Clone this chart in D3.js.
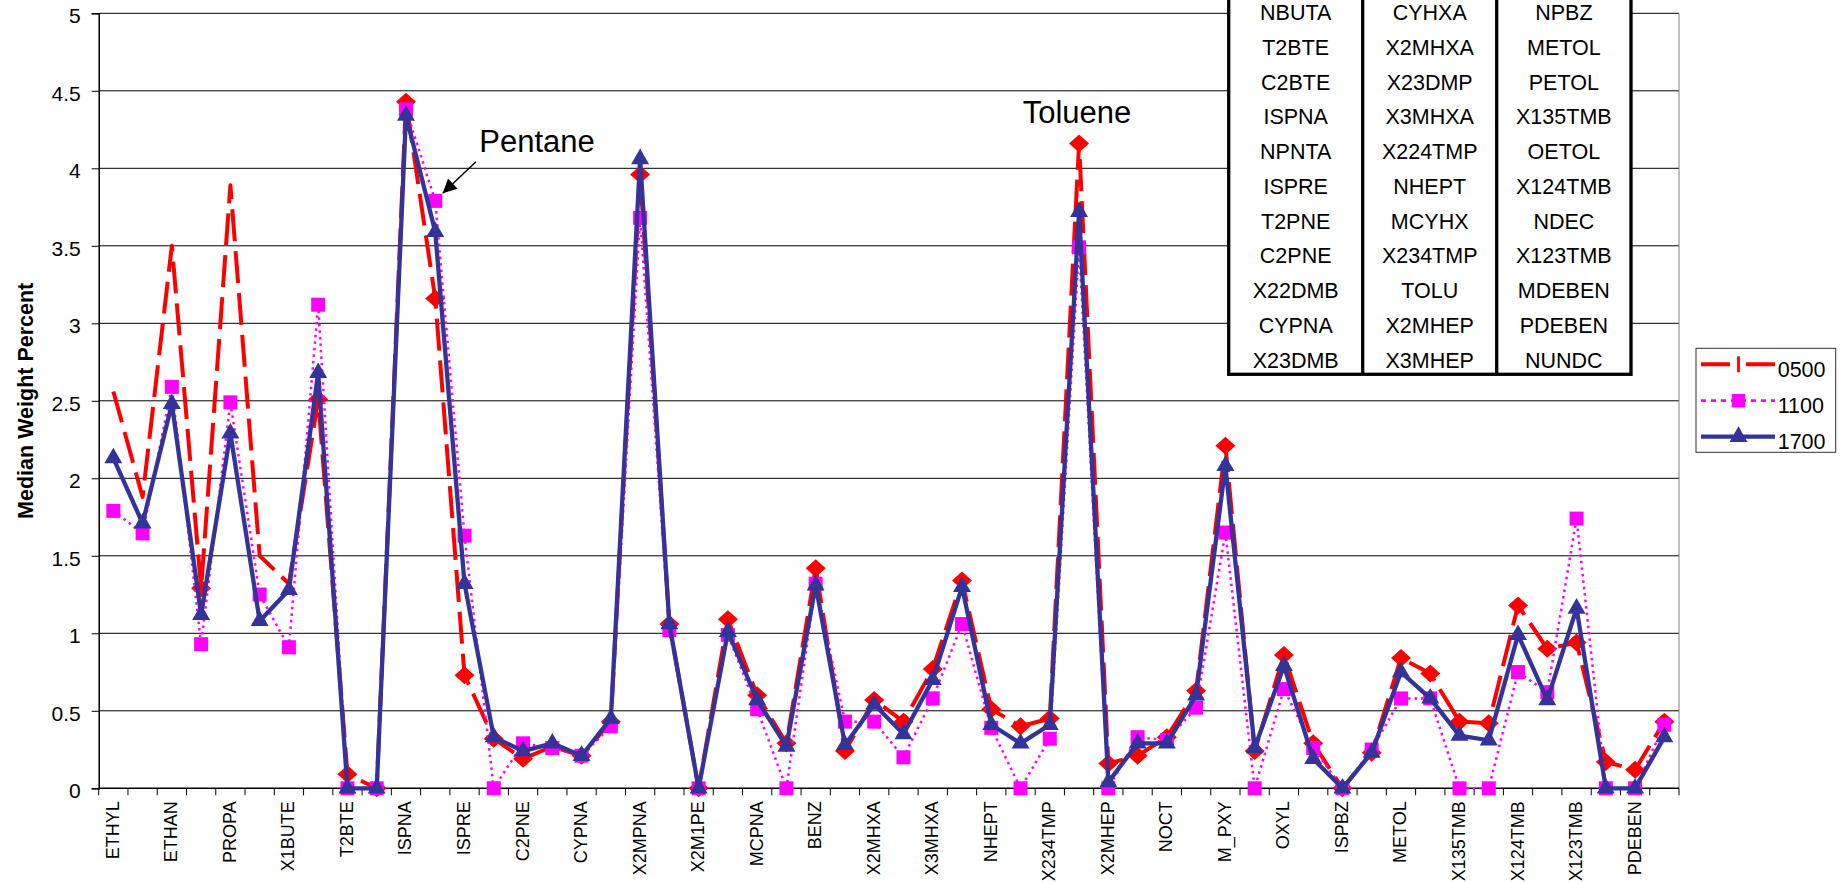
<!DOCTYPE html>
<html>
<head>
<meta charset="utf-8">
<script src="https://cdn.jsdelivr.net/npm/d3@7"></script>
<style>
  html, body { margin: 0; padding: 0; background: #fff; }
  svg { display: block; font-family: "Liberation Sans", Arial, sans-serif; }
</style>
</head>
<body>
<svg id="chart" width="1842" height="882"></svg>
<script>
const categories = ["ETHYL","ACETY","ETHAN","PRPE","PROPA","ISBTA","X1BUTE","NBUTA","T2BTE","C2BTE","ISPNA","NPNTA","ISPRE","T2PNE","C2PNE","X22DMB","CYPNA","X23DMB","X2MPNA","X3MPNA","X2M1PE","NHEX","MCPNA","X24DMP","BENZ","CYHXA","X2MHXA","X23DMP","X3MHXA","X224TMP","NHEPT","MCYHX","X234TMP","TOLU","X2MHEP","X3MHEP","NOCT","ETBZ","M_PXY","STYR","OXYL","NNON","ISPBZ","NPBZ","METOL","PETOL","X135TMB","OETOL","X124TMB","NDEC","X123TMB","MDEBEN","PDEBEN","NUNDC"];

const tickLabels = ["ETHYL","ETHAN","PROPA","X1BUTE","T2BTE","ISPNA","ISPRE","C2PNE","CYPNA","X2MPNA","X2M1PE","MCPNA","BENZ","X2MHXA","X3MHXA","NHEPT","X234TMP","X2MHEP","NOCT","M_PXY","OXYL","ISPBZ","METOL","X135TMB","X124TMB","X123TMB","PDEBEN"];

const series0500 = [2.56,1.88,3.50,1.29,3.89,1.50,1.32,2.51, 0.09,0,4.43,3.16,0.73,0.32,0.19,0.27,0.21,0.43,3.96, 1.06,0,1.09,0.60,0.29,1.42,0.24,0.57,0.43,0.77,1.34, 0.51,0.40,0.45,4.16,0.16,0.21,0.33,0.63,2.21,0.24,0.86, 0.29,0,0.23,0.84,0.74,0.43,0.42,1.18,0.90,0.94,0.17,0.12,0.43];
const series1100 = [1.79,1.645,2.59,0.93,2.49,1.25,0.91,3.12, 0,0,4.38,3.79,1.63,0,0.29,0.26,0.21,0.40,3.68, 1.02,0,0.99,0.51,0,1.32,0.43,0.43,0.20,0.58,1.06, 0.39,0,0.32,3.49,0,0.33,0.31,0.52,1.65,0,0.64, 0.26,0,0.25,0.58,0.58,0,0,0.75,0.62,1.74,0,0,0.41];
const series1700 = [2.13,1.71,2.48,1.12,2.29,1.08,1.28,2.68, 0,0,4.34,3.59,1.32,0.33,0.24,0.29,0.21,0.45,4.06, 1.06,0,1.01,0.57,0.27,1.31,0.28,0.54,0.35,0.70,1.30, 0.41,0.29,0.41,3.72,0.04,0.29,0.29,0.60,2.08,0.26,0.79, 0.19,0,0.23,0.75,0.58,0.34,0.31,0.99,0.57,1.16,0,0,0.33];

const seriesNames = ["0500","1100","1700"];
const yTickValues = [0,0.5,1,1.5,2,2.5,3,3.5,4,4.5,5];

const tableCol1 = ["NBUTA","T2BTE","C2BTE","ISPNA","NPNTA","ISPRE","T2PNE","C2PNE","X22DMB","CYPNA","X23DMB"];
const tableCol2 = ["CYHXA","X2MHXA","X23DMP","X3MHXA","X224TMP","NHEPT","MCYHX","X234TMP","TOLU","X2MHEP","X3MHEP"];
const tableCol3 = ["NPBZ","METOL","PETOL","X135TMB","OETOL","X124TMB","NDEC","X123TMB","MDEBEN","PDEBEN","NUNDC"];

// style: points of the 0500 series drawn without a marker in the original
const noMarker0500 = [0,1,2,4,5,6];

const svg = d3.select("#chart");
const L = 98.7, R = 1679, T = 13.3, B = 788.3;

const x = d3.scaleBand().domain(categories).range([L, R]).padding(0);
const y = d3.scaleLinear().domain([0, 5]).range([B, T]);
const cx = c => x(c) + x.bandwidth() / 2;

// gridlines
svg.append("g").selectAll("line").data(yTickValues.filter(v => v > 0)).join("line")
  .attr("x1", L).attr("x2", R).attr("y1", d => y(d)).attr("y2", d => y(d))
  .attr("stroke", "#000").attr("stroke-width", 1);

// plot right border
svg.append("line").attr("x1", R).attr("x2", R).attr("y1", T).attr("y2", B)
  .attr("stroke", "#808080").attr("stroke-width", 1);

// y axis
const yAxis = d3.axisLeft(y).tickValues(yTickValues).tickSize(7).tickPadding(11)
  .tickFormat(d => String(d));
const gy = svg.append("g").attr("transform", `translate(${L},0)`).call(yAxis);
gy.select(".domain").attr("stroke", "#000").attr("stroke-width", 1.5);
gy.selectAll(".tick line").attr("stroke", "#000");
gy.selectAll(".tick text").attr("font-size", 21).attr("fill", "#000")
  .attr("font-family", "Liberation Sans, Arial, sans-serif").attr("dy", "0.45em");

// x axis line and boundary ticks
svg.append("line").attr("x1", L).attr("x2", R).attr("y1", B).attr("y2", B)
  .attr("stroke", "#000").attr("stroke-width", 1.5);
const bounds = categories.map(c => x(c)).concat([R]);
svg.append("g").selectAll("line").data(bounds).join("line")
  .attr("x1", d => d).attr("x2", d => d).attr("y1", B).attr("y2", B + 7)
  .attr("stroke", "#000").attr("stroke-width", 1);

// x labels
svg.append("g").selectAll("text").data(tickLabels).join("text")
  .attr("transform", d => `translate(${cx(d) + 5.5},${B + 13}) rotate(-90)`)
  .attr("text-anchor", "end").attr("font-size", 18).attr("fill", "#000")
  .text(d => d);

// y title
svg.append("text").attr("transform", `translate(32.5,${(T + B) / 2}) rotate(-90)`)
  .attr("text-anchor", "middle").attr("font-size", 21.5).attr("font-weight", "bold")
  .text("Median Weight Percent");

// series
const line = d3.line().x((d, i) => cx(categories[i])).y(d => y(d));
const diamond = "M0,-9L10,0L0,9L-10,0Z";
const tri = d3.symbol().type(d3.symbolTriangle).size(140)();

function drawSeries(data, color, width, dash, marker, skip) {
  const g = svg.append("g");
  g.append("path").datum(data).attr("d", line).attr("fill", "none")
    .attr("stroke", color).attr("stroke-width", width)
    .attr("stroke-dasharray", dash).attr("stroke-linejoin", "round");
  const pts = data.map((v, i) => ({ v, i })).filter(p => !(skip || []).includes(p.i));
  const m = g.selectAll("g").data(pts).join("g")
    .attr("transform", p => `translate(${cx(categories[p.i])},${y(p.v)})`);
  if (marker === "diamond") m.append("path").attr("d", diamond).attr("fill", color);
  if (marker === "square") m.append("rect").attr("x", -7).attr("y", -7)
    .attr("width", 14).attr("height", 14).attr("fill", color);
  if (marker === "triangle") m.append("path").attr("d", tri).attr("fill", color);
}
drawSeries(series0500, "#FF0000", 4, "32,10", "diamond", noMarker0500);
drawSeries(series1100, "#FF00FF", 2.5, "2.5,4", "square");
drawSeries(series1700, "#333399", 4.3, null, "triangle");

// annotations
svg.append("text").attr("x", 479.3).attr("y", 151.7).attr("font-size", 31).text("Pentane");
svg.append("text").attr("x", 1022.7).attr("y", 123.3).attr("font-size", 31).text("Toluene");
svg.append("defs").append("marker").attr("id", "arrow").attr("viewBox", "0 0 10 10")
  .attr("refX", 10).attr("refY", 5).attr("markerWidth", 20).attr("markerHeight", 14)
  .attr("markerUnits", "userSpaceOnUse").attr("orient", "auto")
  .append("path").attr("d", "M0,0L10,5L0,10Z").attr("fill", "#000");
svg.append("line").attr("x1", 476).attr("y1", 161.7).attr("x2", 442.7).attr("y2", 193.3)
  .attr("stroke", "#000").attr("stroke-width", 1.5).attr("marker-end", "url(#arrow)");

// table
const tL = 1228.7, tR = 1631, tB = 374.3, tDiv = [1362.7, 1496.7];
const tg = svg.append("g");
tg.append("rect").attr("x", tL).attr("y", -5).attr("width", tR - tL).attr("height", tB + 5)
  .attr("fill", "#fff").attr("stroke", "#000").attr("stroke-width", 3.3);
tDiv.forEach(xv => tg.append("line").attr("x1", xv).attr("x2", xv).attr("y1", -5).attr("y2", tB)
  .attr("stroke", "#000").attr("stroke-width", 3.3));
const colCenters = [(tL + tDiv[0]) / 2, (tDiv[0] + tDiv[1]) / 2, (tDiv[1] + tR) / 2];
[tableCol1, tableCol2, tableCol3].forEach((col, ci) => {
  tg.append("g").selectAll("text").data(col).join("text")
    .attr("x", colCenters[ci]).attr("y", (d, i) => 20 + 34.75 * i)
    .attr("text-anchor", "middle").attr("font-size", 21.5).text(d => d);
});

// legend
const lg = svg.append("g");
lg.append("rect").attr("x", 1696).attr("y", 348.3).attr("width", 139.7).attr("height", 104)
  .attr("fill", "#fff").attr("stroke", "#333").attr("stroke-width", 1);
const legendRows = [
  { name: seriesNames[0], color: "#FF0000", w: 4, dash: "29,16", y: 364.3 },
  { name: seriesNames[1], color: "#FF00FF", w: 2.7, dash: "5,5", y: 400.7 },
  { name: seriesNames[2], color: "#333399", w: 4.3, dash: null, y: 436.7 }
];
legendRows.forEach((r, k) => {
  lg.append("line").attr("x1", 1701).attr("x2", 1775).attr("y1", r.y).attr("y2", r.y)
    .attr("stroke", r.color).attr("stroke-width", r.w).attr("stroke-dasharray", r.dash);
  const mg = lg.append("g").attr("transform", `translate(1738.5,${r.y})`);
  if (k === 0) mg.append("rect").attr("x", -1.4).attr("y", -8).attr("width", 2.8).attr("height", 16).attr("fill", r.color);
  if (k === 1) mg.append("rect").attr("x", -6.75).attr("y", -6.75).attr("width", 13.5).attr("height", 13.5).attr("fill", r.color);
  if (k === 2) mg.append("path").attr("d", tri).attr("fill", r.color);
  lg.append("text").attr("x", 1777.7).attr("y", r.y + 12.4).attr("font-size", 21.5).text(r.name);
});
</script>
</body>
</html>
